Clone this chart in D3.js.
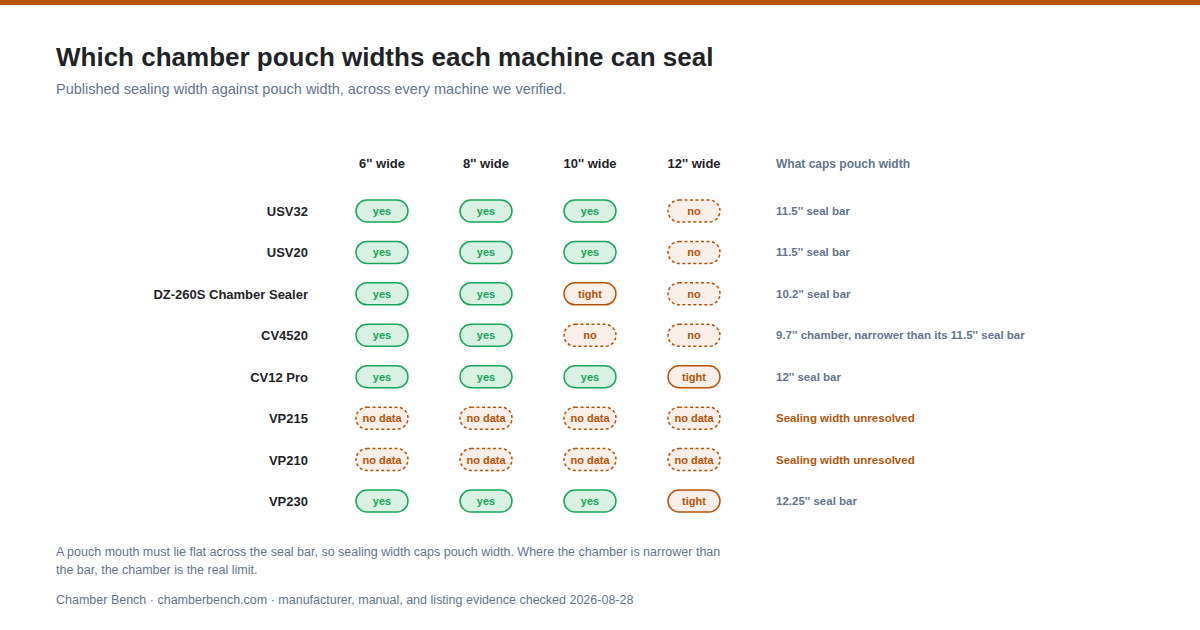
<!DOCTYPE html>
<html><head><meta charset="utf-8">
<script src="https://cdn.jsdelivr.net/npm/d3@7"></script>
<style>body{margin:0;background:#fff}svg{display:block;font-family:"Liberation Sans",Arial,sans-serif}</style>
</head><body><svg id="c" width="1200" height="630"></svg>
<script>
const machines = ["USV32","USV20","DZ-260S Chamber Sealer","CV4520","CV12 Pro","VP215","VP210","VP230"];
const widths = ["6'' wide","8'' wide","10'' wide","12'' wide"];
const fits = [
  ["yes","yes","yes","no"],
  ["yes","yes","yes","no"],
  ["yes","yes","tight","no"],
  ["yes","yes","no","no"],
  ["yes","yes","yes","tight"],
  ["no data","no data","no data","no data"],
  ["no data","no data","no data","no data"],
  ["yes","yes","yes","tight"]
];
const caps = ["11.5'' seal bar","11.5'' seal bar","10.2'' seal bar","9.7'' chamber, narrower than its 11.5'' seal bar","12'' seal bar","Sealing width unresolved","Sealing width unresolved","12.25'' seal bar"];

const svg = d3.select("#c");
const orange = "#b5540a", green = "#16a55a", grey = "#64748b";
svg.append("rect").attr("width",1200).attr("height",5).attr("fill",orange);
svg.append("text").attr("x",56).attr("y",66).attr("font-size",26).attr("font-weight",700).attr("fill","#1f2328").text("Which chamber pouch widths each machine can seal");
svg.append("text").attr("x",56).attr("y",94).attr("font-size",14.5).attr("fill",grey).text("Published sealing width against pouch width, across every machine we verified.");

const x = d3.scalePoint().domain(widths).range([382,694]);
const y = d3.scalePoint().domain(machines).range([211,501]);

svg.selectAll(".colh").data(widths).enter().append("text")
  .attr("x",d=>x(d)).attr("y",168).attr("text-anchor","middle").attr("font-size",13).attr("font-weight",700).attr("fill","#1f2328").text(d=>d);
svg.append("text").attr("x",776).attr("y",168).attr("font-size",12).attr("font-weight",700).attr("fill",grey).text("What caps pouch width");

svg.selectAll(".rowh").data(machines).enter().append("text")
  .attr("x",308).attr("y",d=>y(d)+5).attr("text-anchor","end").attr("font-size",13).attr("font-weight",700).attr("fill","#1f2328").text(d=>d);

const style = {
  "yes":{fill:"#d8f1e3",stroke:green,dash:null,text:green},
  "tight":{fill:"#f9efe8",stroke:orange,dash:null,text:orange},
  "no":{fill:"#f9efe8",stroke:orange,dash:"3,2.5",text:orange},
  "no data":{fill:"#f9efe8",stroke:orange,dash:"3,2.5",text:orange}
};
const cells = [];
fits.forEach((r,i)=>r.forEach((v,j)=>cells.push({m:machines[i],w:widths[j],v})));
const g = svg.selectAll(".cell").data(cells).enter().append("g").attr("transform",d=>`translate(${x(d.w)},${y(d.m)})`);
g.append("rect").attr("x",-26).attr("y",-11).attr("width",52).attr("height",22).attr("rx",11)
  .attr("fill",d=>style[d.v].fill).attr("stroke",d=>style[d.v].stroke).attr("stroke-width",1.5)
  .attr("stroke-dasharray",d=>style[d.v].dash);
g.append("text").attr("y",4).attr("text-anchor","middle").attr("font-size",11).attr("font-weight",700)
  .attr("fill",d=>style[d.v].text).text(d=>d.v);

svg.selectAll(".cap").data(caps).enter().append("text")
  .attr("x",776).attr("y",(d,i)=>y(machines[i])+4).attr("font-size",11.5).attr("font-weight",700)
  .attr("fill",d=>d.startsWith("Sealing")?orange:grey).text(d=>d);

const foot = ["A pouch mouth must lie flat across the seal bar, so sealing width caps pouch width. Where the chamber is narrower than","the bar, the chamber is the real limit."];
svg.selectAll(".foot").data(foot).enter().append("text").attr("x",56).attr("y",(d,i)=>556+i*18).attr("font-size",12.5).attr("fill",grey).text(d=>d);
svg.append("text").attr("x",56).attr("y",604).attr("font-size",12.5).attr("fill",grey).text("Chamber Bench · chamberbench.com · manufacturer, manual, and listing evidence checked 2026-08-28");
</script></body></html>
